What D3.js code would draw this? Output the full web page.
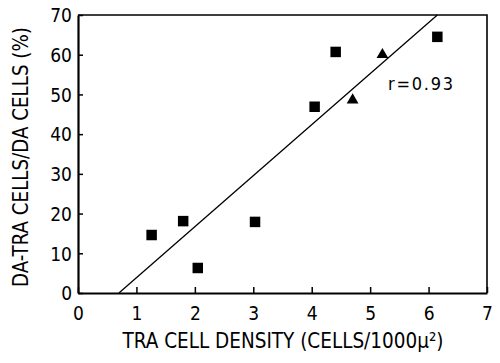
<!DOCTYPE html>
<html>
<head>
<meta charset="utf-8">
<script src="https://cdn.jsdelivr.net/npm/d3@7"></script>
<style>
  body { margin: 0; background: #fff; }
  text { font-family: "Liberation Sans Narrow", "DejaVu Sans Condensed", "Liberation Sans", sans-serif; fill: #000; }
</style>
</head>
<body>
<svg width="500" height="363"></svg>
<script>
    'use strict';

    var squareX = [1.26, 1.8, 2.05, 3.03, 4.05, 4.41, 6.15];
    var squareY = [14.6, 18.1, 6.3, 17.9, 46.9, 60.7, 64.5];
    var triangleX = [4.7, 5.21];
    var triangleY = [48.6, 60.0];
    var fitX = [0.7, 6.15];
    var fitY = [0, 70];
    var xTicks = [0, 1, 2, 3, 4, 5, 6, 7];
    var yTicks = [0, 10, 20, 30, 40, 50, 60, 70];

    var svg = d3.select("svg");
    var margin = {top: 15, right: 13, bottom: 70, left: 78};
    var width = +svg.attr("width") - margin.left - margin.right;
    var height = +svg.attr("height") - margin.top - margin.bottom;
    var g = svg.append("g").attr("transform", "translate(" + margin.left + "," + margin.top + ")");

    var x = d3.scaleLinear().domain([0, 7]).range([0, width]);
    var y = d3.scaleLinear().domain([0, 70]).range([height, 0]);

    // frame (top and right)
    g.append("path")
        .attr("d", "M0,0H" + width + "V" + height)
        .attr("fill", "none")
        .attr("stroke", "#000")
        .attr("stroke-width", 1.6);

    var xAxis = g.append("g")
        .attr("transform", "translate(0," + height + ")")
        .call(d3.axisBottom(x).tickValues(xTicks).tickFormat(d3.format("d"))
            .tickSizeInner(-6).tickSizeOuter(0).tickPadding(14));
    xAxis.select(".domain").attr("stroke-width", 2.2);
    xAxis.selectAll(".tick line").attr("stroke-width", 1.5);
    xAxis.selectAll(".tick text").style("font-size", "19px");

    var yAxis = g.append("g")
        .call(d3.axisLeft(y).tickValues(yTicks).tickFormat(d3.format("d"))
            .tickSizeInner(-5).tickSizeOuter(0).tickPadding(6));
    yAxis.select(".domain").attr("stroke-width", 2.2);
    yAxis.selectAll(".tick line").attr("stroke-width", 1.5);
    yAxis.selectAll(".tick text").style("font-size", "19px").attr("dy", "0.36em");

    g.selectAll(".tick text").attr("font-family", null);

    // fit line
    var line = d3.line()
        .x(function (d) { return x(d[0]); })
        .y(function (d) { return y(d[1]); });
    g.append("path")
        .datum(d3.zip(fitX, fitY))
        .attr("d", line)
        .attr("fill", "none")
        .attr("stroke", "#000")
        .attr("stroke-width", 1.3);

    g.selectAll(".sq")
        .data(d3.zip(squareX, squareY))
        .enter().append("path")
        .attr("class", "sq")
        .attr("transform", function (d) { return "translate(" + x(d[0]) + "," + y(d[1]) + ")"; })
        .attr("d", d3.symbol(d3.symbolSquare, 110));

    g.selectAll(".tri")
        .data(d3.zip(triangleX, triangleY))
        .enter().append("path")
        .attr("class", "tri")
        .attr("transform", function (d) { return "translate(" + x(d[0]) + "," + y(d[1]) + ")"; })
        .attr("d", d3.symbol(d3.symbolTriangle, 60));

    g.append("text")
        .attr("x", 310)
        .attr("y", 75)
        .style("font-size", "18px")
        .attr("textLength", 65)
        .text("r=0.93");

    // axis titles
    svg.append("text")
        .attr("x", 283)
        .attr("y", 348)
        .attr("text-anchor", "middle")
        .style("font-size", "21px")
        .attr("textLength", 321)
        .attr("lengthAdjust", "spacingAndGlyphs")
        .text("TRA CELL DENSITY (CELLS/1000\u03bc\u00b2)");

    svg.append("text")
        .attr("transform", "translate(28,157) rotate(-90)")
        .attr("text-anchor", "middle")
        .style("font-size", "21px")
        .attr("textLength", 260)
        .attr("lengthAdjust", "spacingAndGlyphs")
        .text("DA-TRA CELLS/DA CELLS (%)");
</script>
</body>
</html>
